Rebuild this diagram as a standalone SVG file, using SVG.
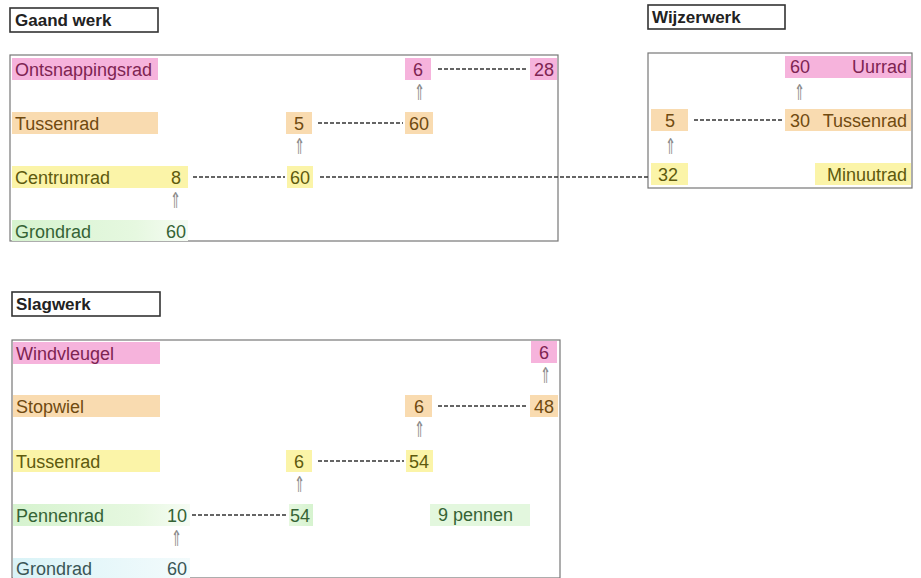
<svg xmlns="http://www.w3.org/2000/svg" width="921" height="578" viewBox="0 0 921 578">
<defs>
<linearGradient id="gGreen" x1="0" x2="1" y1="0" y2="0"><stop offset="0" stop-color="#d6f3cf"/><stop offset="0.7" stop-color="#e6f8e0"/><stop offset="1" stop-color="#f6fcf4"/></linearGradient>
<linearGradient id="gGreen2" x1="0" x2="1" y1="0" y2="0"><stop offset="0" stop-color="#e6f8e0"/><stop offset="1" stop-color="#d6f3cf"/></linearGradient>
<linearGradient id="gCyan" x1="0" x2="1" y1="0" y2="0"><stop offset="0" stop-color="#d9f3f7"/><stop offset="1" stop-color="#f3fbfc"/></linearGradient>
<style>
text{font-family:"Liberation Sans",Arial,sans-serif;font-size:18px}
.title{font-weight:bold;fill:#222;font-size:17px}
.tbox{fill:#fff;stroke:#333;stroke-width:1.6}
.box{fill:#fff;stroke:#777;stroke-width:1.2}
.pink{fill:#f6b3dc}
.orange{fill:#f9dbb0}
.yellow{fill:#fbf4a8}
.tp{fill:#7e2452}
.to{fill:#704a10}
.ty{fill:#5e5a0e}
.tg{fill:#356335}
.tc{fill:#3a5656}
.m{text-anchor:middle}
.e{text-anchor:end}
.arr{font-family:"DejaVu Sans",sans-serif;font-size:22px;fill:#8a8a8a;text-anchor:middle;font-weight:200}
.dash{stroke:#333;stroke-width:1.4;stroke-dasharray:4 2;fill:none}
</style>
</defs>

<g id="gaand-werk">
<rect class="tbox" x="10" y="8" width="148" height="24"/>
<text class="title" x="15" y="26">Gaand werk</text>
<rect class="box" x="10" y="55" width="548" height="186"/>
</g>
<g id="g-ontsnappingsrad">
<rect class="pink" x="12" y="58" width="146" height="22"/>
<text class="tp" x="15" y="76">Ontsnappingsrad</text>
<rect class="pink" x="405" y="58" width="26" height="22"/>
<text class="tp m" x="418" y="76">6</text>
<rect class="pink" x="530" y="58" width="27" height="22"/>
<text class="tp m" x="544" y="76">28</text>
</g>
<g id="g-tussenrad">
<rect class="orange" x="12" y="112" width="146" height="22"/>
<text class="to" x="15" y="130">Tussenrad</text>
<rect class="orange" x="286" y="112" width="26" height="22"/>
<text class="to m" x="299" y="130">5</text>
<rect class="orange" x="405" y="112" width="28" height="22"/>
<text class="to m" x="419" y="130">60</text>
</g>
<g id="g-centrumrad">
<rect class="yellow" x="12" y="166" width="176" height="22"/>
<text class="ty" x="15" y="184">Centrumrad</text>
<text class="ty m" x="176" y="184">8</text>
<rect class="yellow" x="287" y="166" width="26" height="22"/>
<text class="ty m" x="300" y="184">60</text>
</g>
<g id="g-grondrad">
<rect fill="url(#gGreen)" x="12" y="220" width="176" height="21"/>
<text class="tg" x="15" y="238">Grondrad</text>
<text class="tg m" x="176" y="238">60</text>
</g>

<g id="wijzerwerk">
<rect class="tbox" x="648" y="5" width="137" height="24"/>
<text class="title" x="652" y="23">Wijzerwerk</text>
<rect class="box" x="648" y="53" width="264" height="135"/>
</g>
<g id="w-uurrad">
<rect class="pink" x="785" y="56" width="126" height="22"/>
<text class="tp" x="790" y="73">60</text>
<text class="tp e" x="907" y="73">Uurrad</text>
</g>
<g id="w-tussenrad">
<rect class="orange" x="651" y="109" width="37" height="22"/>
<text class="to m" x="670" y="127">5</text>
<rect class="orange" x="785" y="109" width="126" height="22"/>
<text class="to" x="790" y="127">30</text>
<text class="to e" x="907" y="127">Tussenrad</text>
</g>
<g id="w-minuutrad">
<rect class="yellow" x="651" y="163" width="37" height="22"/>
<text class="ty" x="658" y="181">32</text>
<rect class="yellow" x="815" y="163" width="96" height="22"/>
<text class="ty e" x="907" y="181">Minuutrad</text>
</g>

<g id="slagwerk">
<rect class="tbox" x="12" y="292" width="148" height="24"/>
<text class="title" x="16" y="310">Slagwerk</text>
<rect class="box" x="12" y="340" width="548" height="238"/>
</g>
<g id="s-windvleugel">
<rect class="pink" x="13" y="342" width="147" height="22"/>
<text class="tp" x="16" y="360">Windvleugel</text>
<rect class="pink" x="531" y="341" width="26" height="22"/>
<text class="tp m" x="544" y="359">6</text>
</g>
<g id="s-stopwiel">
<rect class="orange" x="13" y="395" width="147" height="22"/>
<text class="to" x="16" y="413">Stopwiel</text>
<rect class="orange" x="405" y="395" width="27" height="22"/>
<text class="to m" x="419" y="413">6</text>
<rect class="orange" x="530" y="395" width="28" height="22"/>
<text class="to m" x="544" y="413">48</text>
</g>
<g id="s-tussenrad">
<rect class="yellow" x="13" y="450" width="147" height="22"/>
<text class="ty" x="16" y="468">Tussenrad</text>
<rect class="yellow" x="286" y="450" width="26" height="22"/>
<text class="ty m" x="299" y="468">6</text>
<rect class="yellow" x="406" y="450" width="27" height="22"/>
<text class="ty m" x="419" y="468">54</text>
</g>
<g id="s-pennenrad">
<rect fill="url(#gGreen)" x="13" y="504" width="177" height="22"/>
<text class="tg" x="16" y="522">Pennenrad</text>
<text class="tg m" x="177" y="522">10</text>
<rect fill="url(#gGreen2)" x="289" y="504" width="24" height="22"/>
<text class="tg m" x="300" y="522">54</text>
<rect fill="#e3f7de" x="430" y="504" width="100" height="22"/>
<text class="tg" x="438" y="521">9 pennen</text>
</g>
<g id="s-grondrad">
<rect fill="url(#gCyan)" x="13" y="558" width="177" height="20"/>
<text class="tc" x="16" y="575">Grondrad</text>
<text class="tc m" x="177" y="575">60</text>
</g>

<g id="connectors">
<line class="dash" x1="438" y1="69" x2="528" y2="69"/>
<line class="dash" x1="318" y1="123" x2="403" y2="123"/>
<line class="dash" x1="193" y1="177" x2="285" y2="177"/>
<line class="dash" x1="320" y1="177" x2="650" y2="177"/>
<line class="dash" x1="694" y1="120" x2="783" y2="120"/>
<line class="dash" x1="438" y1="406" x2="528" y2="406"/>
<line class="dash" x1="318" y1="461" x2="404" y2="461"/>
<line class="dash" x1="192" y1="515" x2="288" y2="515"/>
<text class="arr" transform="translate(419,100) scale(0.6,1)">⇑</text>
<text class="arr" transform="translate(299,154) scale(0.6,1)">⇑</text>
<text class="arr" transform="translate(175,208) scale(0.6,1)">⇑</text>
<text class="arr" transform="translate(799,100) scale(0.6,1)">⇑</text>
<text class="arr" transform="translate(670,154) scale(0.6,1)">⇑</text>
<text class="arr" transform="translate(545,383) scale(0.6,1)">⇑</text>
<text class="arr" transform="translate(419,437) scale(0.6,1)">⇑</text>
<text class="arr" transform="translate(299,492) scale(0.6,1)">⇑</text>
<text class="arr" transform="translate(176,546) scale(0.6,1)">⇑</text>
</g>
</svg>
